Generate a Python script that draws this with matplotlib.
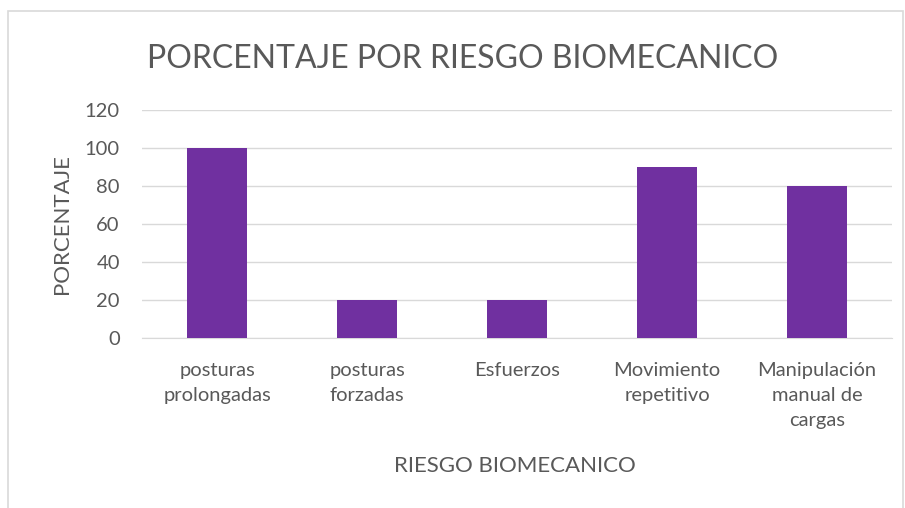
import matplotlib.pyplot as plt
from matplotlib.patches import Rectangle

# Datos del gráfico
categorias = ["posturas\nprolongadas", "posturas\nforzadas", "Esfuerzos",
              "Movimiento\nrepetitivo", "Manipulación\nmanual de\ncargas"]
porcentajes = [100, 20, 20, 90, 80]
marcas_y = [0, 20, 40, 60, 80, 100, 120]

plt.rcParams['font.family'] = ['Lato', 'DejaVu Sans']
gris = "#595959"

fig = plt.figure(figsize=(9.05, 5.08), dpi=100)
ax = fig.add_axes([142 / 905, 1 - 338 / 508, 750 / 905, 228 / 508])

ax.bar(range(len(categorias)), porcentajes, width=0.4, color="#7030a0", zorder=3)
ax.set_xlim(-0.5, len(categorias) - 0.5)
ax.set_ylim(0, 120)
ax.set_yticks(marcas_y)
ax.set_xticks(range(len(categorias)))
ax.set_xticklabels(categorias, linespacing=1.6)
ax.grid(axis="y", color="#d9d9d9", lw=1, zorder=0)
for s in ax.spines.values():
    s.set_visible(False)
ax.spines["bottom"].set_visible(True)
ax.spines["bottom"].set_color("#d9d9d9")
ax.tick_params(length=0, labelsize=14.5, colors=gris)
ax.tick_params(axis="x", pad=17)
ax.tick_params(axis="y", pad=16)

ax.set_ylabel("PORCENTAJE", fontsize=16, color=gris, labelpad=9)
fig.text(515 / 905, 1 - 466 / 508, "RIESGO BIOMECANICO", fontsize=16,
         color=gris, ha="center", va="center")
fig.text(463 / 905, 1 - 59 / 508, "PORCENTAJE POR RIESGO BIOMECANICO",
         fontsize=23, color=gris, ha="center", va="center")

# Borde del área del gráfico
fig.patches.append(Rectangle((8 / 905, -0.05), 895 / 905, 1.05 - 11 / 508,
                             transform=fig.transFigure, fill=False,
                             edgecolor="#d9d9d9", lw=1.2))

fig.savefig("out.png", dpi=100)
